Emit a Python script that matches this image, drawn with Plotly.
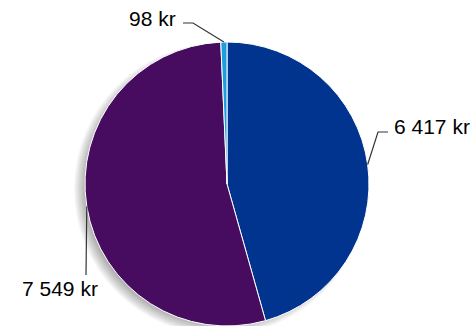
import math
import plotly.graph_objects as go

W, H = 474, 326

# slice data, clockwise from 12 o'clock
labels = ["Blå", "Lila", "Ljusblå"]
values = [6417, 7549, 98]
value_text = ["6 417 kr", "7 549 kr", "98 kr"]
colors = ["#00348e", "#470b60", "#1b9de0"]

# pie geometry in pixels
CX, CY, R = 227.0, 184.0, 142.0

# label layout per slice: elbow point(s) after the edge point, text anchor
label_layout = [
    dict(path=[(378, 132), (388, 132)], text=(392, 126), xanchor="left"),
    dict(path=[(86, 275)], text=(60, 288), xanchor="center"),
    dict(path=[(193, 23), (183, 23)], text=(178, 18), xanchor="right"),
]


def px(x, y):
    return x / W, 1 - y / H


fig = go.Figure()

fig.add_trace(
    go.Pie(
        labels=labels,
        values=values,
        sort=False,
        direction="clockwise",
        rotation=0,
        marker=dict(colors=colors, line=dict(color="white", width=1)),
        textinfo="none",
        hoverinfo="label+value",
        showlegend=False,
        domain=dict(x=[(CX - R) / W, (CX + R) / W], y=[0, 2 * R / H]),
    )
)

shapes = []

# soft shadow: stacked translucent discs offset down-left
for k in range(12):
    r = R - 8 + k * 1.1
    sx, sy = CX - 7, CY + 5
    x0, y1 = px(sx - r, sy - r)
    x1, y0 = px(sx + r, sy + r)
    shapes.append(
        dict(
            type="circle", xref="paper", yref="paper",
            x0=x0, y0=y0, x1=x1, y1=y1,
            fillcolor="rgba(0,0,0,0.032)", line=dict(width=0), layer="below",
        )
    )

annotations = []
total = sum(values)
start = 0.0
for v, txt, lay in zip(values, value_text, label_layout):
    mid = (start + v / 2) / total * 2 * math.pi
    start += v
    ex = CX + R * math.sin(mid)
    ey = CY - R * math.cos(mid)
    pts = [(ex, ey)] + lay["path"]
    d = "M " + " L ".join("%f,%f" % px(x, y) for x, y in pts)
    shapes.append(
        dict(type="path", xref="paper", yref="paper", path=d,
             line=dict(color="#333333", width=1.2))
    )
    tx, ty = px(*lay["text"])
    annotations.append(
        dict(
            x=tx, y=ty, xref="paper", yref="paper", text=txt, showarrow=False,
            xanchor=lay["xanchor"], yanchor="middle",
            font=dict(family="Liberation Sans, Arial, sans-serif", size=21, color="#000000"),
        )
    )

fig.update_layout(
    width=W,
    height=H,
    margin=dict(l=0, r=0, t=0, b=0),
    paper_bgcolor="white",
    plot_bgcolor="white",
    shapes=shapes,
    annotations=annotations,
)

fig.write_html(
    "out.html",
    config={"displayModeBar": False},
    post_script="document.body.style.margin='0';",
)
